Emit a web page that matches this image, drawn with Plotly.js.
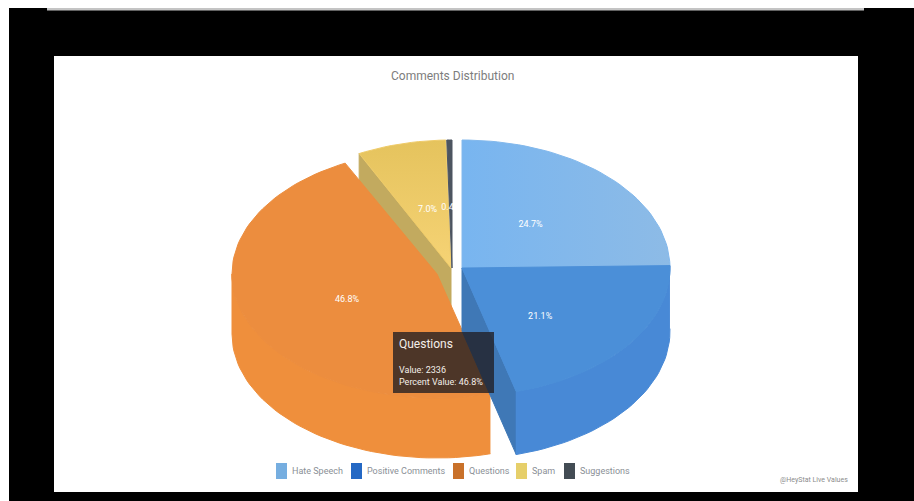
<!DOCTYPE html>
<html>
<head>
<meta charset="utf-8">
<script src="https://cdn.plot.ly/plotly-3.0.1.min.js"></script>
<style>html,body{margin:0;padding:0;background:#000}#chart{width:914px;height:501px}</style>
</head>
<body>
<div id="chart"></div>
<script>
// Comment counts per category
var categories = ['Hate Speech', 'Positive Comments', 'Questions', 'Spam', 'Suggestions'];
var counts = [1233, 1053, 2336, 349, 20];
var percentLabels = ['24.7%', '21.1%', '46.8%', '7.0%', '0.4%'];
var topColors = ['#82b8ec', '#4b8fd8', '#ec8d3e', '#efcb68', '#4d5560'];
var legendColors = ['#76aee0', '#2468c4', '#c9712a', '#e6cf6a', '#434c54'];

// Pie geometry: each slice has its own exploded apex on a tilted disc
var centreX = [462, 462, 437, 451, 452];
var centreY = [268, 268, 274, 268, 268];
var radiusX = [208, 208, 205, 205, 208];
var radiusY = [128, 128, 124, 128, 128];
var depth = [60, 63, 60, 60, 60];
var labelDrop = [0, 13, 5, 0, 0];

var total = counts.reduce(function (a, b) { return a + b; }, 0);
var edges = [0];
counts.forEach(function (c, i) { edges.push(edges[i] + c / total * 360); });

function rim(i, deg, drop) {
  var r = deg * Math.PI / 180;
  return [centreX[i] + radiusX[i] * Math.sin(r), centreY[i] - radiusY[i] * Math.cos(r) + (drop || 0)];
}
function arc(i, from, to, drop) {
  var pts = [], n = Math.max(2, Math.ceil(Math.abs(to - from) / 2));
  for (var k = 0; k <= n; k++) pts.push(rim(i, from + (to - from) * k / n, drop));
  return pts;
}
function poly(pts, color, extra) {
  var t = {
    type: 'scatter', mode: 'lines', fill: 'toself', fillcolor: color,
    x: pts.map(function (p) { return p[0]; }), y: pts.map(function (p) { return p[1]; }),
    line: {width: 1, color: color}, hoverinfo: 'skip', showlegend: false
  };
  for (var k in extra) t[k] = extra[k];
  return t;
}
function sliceFace(i) {
  var apex = [centreX[i], centreY[i]];
  return poly([apex].concat(arc(i, edges[i], edges[i + 1])).concat([apex]), topColors[i], {name: categories[i]});
}
// Outer wall of a slice between two rim angles
function wall(i, from, to, color) {
  return poly(arc(i, from, to).concat(arc(i, to, from, depth[i])), color);
}
// Flat cut face running from the apex to the rim at one angle
function cut(i, deg, color) {
  var a = [centreX[i], centreY[i]], b = rim(i, deg);
  return poly([a, b, [b[0], b[1] + depth[i]], [a[0], a[1] + depth[i]], a], color);
}

var hateFace = sliceFace(0);
hateFace.fillgradient = {type: 'horizontal', colorscale: [[0, '#78b5f0'], [1, '#8dbbe6']]};
var spamFace = sliceFace(3);
spamFace.fillgradient = {type: 'vertical', colorscale: [[0, '#f6d375'], [1, '#e5c35d']]};

function midAngle(i) { return (edges[i] + edges[i + 1]) / 360 * Math.PI; }
var labelTrace = {
  type: 'scatter', mode: 'text', hoverinfo: 'skip', showlegend: false,
  x: categories.map(function (c, i) { return centreX[i] + 0.47 * radiusX[i] * Math.sin(midAngle(i)); }),
  y: categories.map(function (c, i) { return centreY[i] - 0.47 * radiusY[i] * Math.cos(midAngle(i)) + labelDrop[i]; }),
  text: percentLabels,
  textfont: {family: 'Roboto, sans-serif', size: 9, color: '#ffffff'}
};

// Painter's order: back slices first, exploded front slices last
var traces = [
  hateFace,
  cut(3, edges[3], '#c2aa5f'),
  spamFace,
  sliceFace(4),
  wall(2, edges[2], 270, '#ef8f3c'),
  sliceFace(2),
  cut(1, edges[2], '#3f78b6'),
  wall(1, edges[1], edges[2], '#4889d6'),
  sliceFace(1),
  labelTrace
];

// Legend row
var legendX = [276, 351, 453, 516, 564];
var legendY = 471;
function box(x0, x1, y0, y1, color, layer) {
  return {type: 'rect', xref: 'x', yref: 'y', x0: x0, x1: x1, y0: y0, y1: y1, fillcolor: color, line: {width: 0}, layer: layer};
}
var shapes = [
  box(54, 858, 56, 492, '#ffffff', 'below'),
  box(0, 914, 0, 8, '#ffffff', 'below'),
  box(0, 9, 0, 501, '#ffffff', 'below'),
  box(47, 864, 8, 10.5, '#c4c4c4', 'below'),
  box(393, 494, 332, 393, 'rgba(32,30,34,0.78)', 'above')
];
var annotations = [];
function note(x, y, text, size, color, anchor) {
  annotations.push({xref: 'x', yref: 'y', x: x, y: y, text: text, showarrow: false, xanchor: anchor || 'left', yanchor: 'middle',
    font: {family: 'Roboto, sans-serif', size: size, color: color}});
}
categories.forEach(function (c, i) {
  shapes.push(box(legendX[i], legendX[i] + 11, legendY - 8, legendY + 8, legendColors[i], 'above'));
  note(legendX[i] + 14, legendY, c, 9, '#8a8f96');
});

// Pinned tooltip for the Questions slice
note(397, 344, categories[2], 12, '#f4efea');
note(397, 370, 'Value: ' + counts[2], 9, '#f4efea');
note(397, 382, 'Percent Value: ' + percentLabels[2], 9, '#f4efea');
note(452, 76, 'Comments Distribution', 12, '#7d7d7d', 'center');
note(850, 480, '@HeyStat Live Values', 7, '#8c8c8c', 'right');

Plotly.newPlot('chart', traces, {
  width: 914, height: 501,
  margin: {l: 0, r: 0, t: 0, b: 0},
  paper_bgcolor: '#000000', plot_bgcolor: '#000000',
  xaxis: {range: [0, 914], visible: false, fixedrange: true},
  yaxis: {range: [501, 0], visible: false, fixedrange: true},
  shapes: shapes, annotations: annotations, showlegend: false
}, {staticPlot: true, displayModeBar: false});
</script>
</body>
</html>
